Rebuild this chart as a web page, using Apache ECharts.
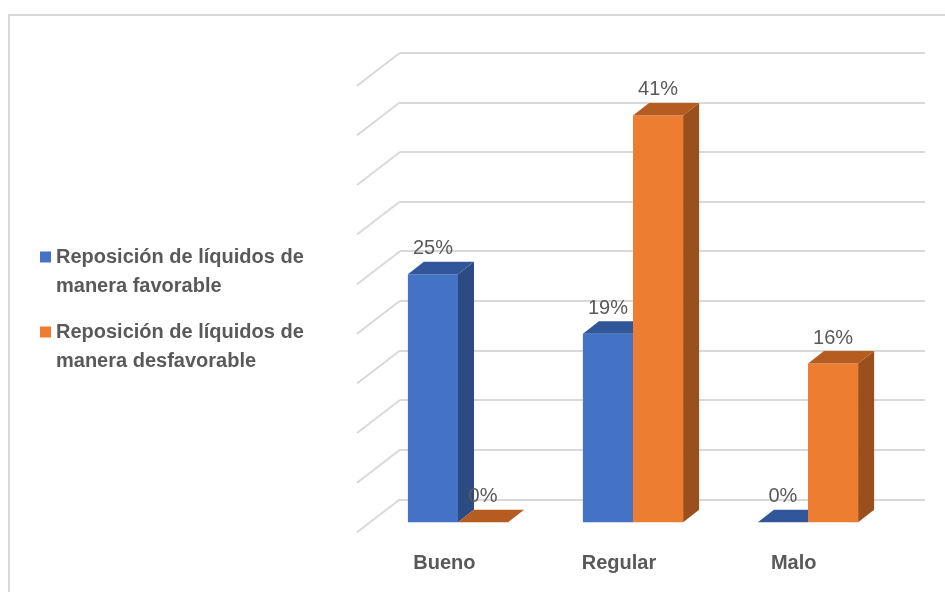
<!DOCTYPE html>
<html>
<head>
<meta charset="utf-8">
<script src="https://cdn.jsdelivr.net/npm/echarts@6/dist/echarts.min.js"></script>
<style>
  html, body { margin: 0; padding: 0; background: #fff; }
  #chart { width: 945px; height: 592px; }
</style>
</head>
<body>
<div id="chart"></div>
<script>
// Data
const categories = ['Bueno', 'Regular', 'Malo'];
const seriesNames = [
  'Reposición de líquidos de\nmanera favorable',
  'Reposición de líquidos de\nmanera desfavorable'
];
const favorable = [25, 19, 0];
const desfavorable = [0, 41, 16];
const gridValues = [0, 5, 10, 15, 20, 25, 30, 35, 40, 45];

// Pseudo-3D geometry (pixels)
const WALL = [-43, 33];      // diagonal of the side wall / floor depth
const FRONT = [-29.5, 23];   // offset of bar front faces from the back wall
const DEPTH = [16, -12.5];   // depth vector of each bar
const BAR_RATIO = 0.2863;    // bar width as a fraction of a category band
const FONT = '"Liberation Sans", Arial, sans-serif';

const palettes = [
  { front: '#4472C4', side: '#2C4B82', top: '#31579A' },
  { front: '#ED7D31', side: '#9A4F1D', top: '#B55C21' }
];

function barRenderer(seriesIdx) {
  const pal = palettes[seriesIdx];
  return function (params, api) {
    const cat = api.value(0);
    const val = api.value(1);
    const top = api.coord([cat, val]);
    const base = api.coord([cat, 0]);
    const w = api.size([1, 0])[0] * BAR_RATIO;
    const xl = top[0] - w + seriesIdx * w + FRONT[0];
    const xr = xl + w;
    const yT = top[1] + FRONT[1];
    const yB = base[1] + FRONT[1];
    const dx = DEPTH[0], dy = DEPTH[1];
    return {
      type: 'group',
      children: [
        { type: 'polygon', shape: { points: [[xr, yT], [xr + dx, yT + dy], [xr + dx, yB + dy], [xr, yB]] },
          style: { fill: pal.side } },
        { type: 'rect', shape: { x: xl, y: yT, width: w, height: yB - yT },
          style: { fill: pal.front } },
        { type: 'polygon', shape: { points: [[xl, yT], [xl + dx, yT + dy], [xr + dx, yT + dy], [xr, yT]] },
          style: { fill: pal.top } },
        { type: 'text', z2: 10,
          style: { text: val + '%', x: (xl + xr) / 2, y: yT + dy - 13, align: 'center', verticalAlign: 'middle',
                   fill: '#595959', fontSize: 20, fontFamily: FONT } }
      ]
    };
  };
}

function wallDiagonal(params, api) {
  const p = api.coord([0, api.value(1)]);
  const x0 = params.coordSys.x;
  return {
    type: 'line',
    shape: { x1: x0, y1: p[1], x2: x0 + WALL[0], y2: p[1] + WALL[1] },
    style: { stroke: '#d9d9d9', lineWidth: 2 }
  };
}

// A leading blank line keeps the legend square level with the first text line
const legendFormatter = name => '\n' + name;
const legendText = {
  fontFamily: FONT, fontSize: 20, fontWeight: 'bold', color: '#595959', lineHeight: 29
};

const chart = echarts.init(document.getElementById('chart'));
chart.setOption({
  animation: false,
  backgroundColor: '#fff',
  graphic: [{
    type: 'rect', z: -10, silent: true,
    shape: { x: 9, y: 15, width: 1000, height: 700 },
    style: { fill: 'none', stroke: '#d9d9d9', lineWidth: 2 }
  }],
  legend: [
    { data: [seriesNames[0]], left: 40, top: 213.5, padding: 0, icon: 'rect', formatter: legendFormatter,
      itemWidth: 11, itemHeight: 11, textStyle: legendText, selectedMode: false },
    { data: [seriesNames[1]], left: 40, top: 288.5, padding: 0, icon: 'rect', formatter: legendFormatter,
      itemWidth: 11, itemHeight: 11, textStyle: legendText, selectedMode: false }
  ],
  grid: [
    { left: 400, right: 20, top: 52.7, bottom: 92.7 },
    { left: 357, right: 64, top: 80, bottom: 59 }
  ],
  xAxis: [
    { type: 'category', gridIndex: 0, data: categories, show: false },
    { type: 'category', gridIndex: 1, data: categories,
      axisLine: { show: false }, axisTick: { show: false },
      axisLabel: { margin: 20, color: '#595959', fontFamily: FONT, fontSize: 20, fontWeight: 'bold' } }
  ],
  yAxis: [
    { type: 'value', gridIndex: 0, min: 0, max: 45, interval: 5,
      axisLabel: { show: false }, axisLine: { show: false }, axisTick: { show: false },
      splitLine: { lineStyle: { color: '#d9d9d9', width: 2 } } },
    { type: 'value', gridIndex: 1, show: false, splitLine: { show: false } }
  ],
  series: [
    { type: 'custom', name: 'wall', xAxisIndex: 0, yAxisIndex: 0, z: 1, silent: true,
      data: gridValues.map(v => [0, v]), renderItem: wallDiagonal },
    { type: 'custom', name: seriesNames[0], xAxisIndex: 0, yAxisIndex: 0, z: 5,
      itemStyle: { color: palettes[0].front },
      data: favorable.map((v, i) => [i, v]), renderItem: barRenderer(0) },
    { type: 'custom', name: seriesNames[1], xAxisIndex: 0, yAxisIndex: 0, z: 6,
      itemStyle: { color: palettes[1].front },
      data: desfavorable.map((v, i) => [i, v]), renderItem: barRenderer(1) }
  ]
});
</script>
</body>
</html>
